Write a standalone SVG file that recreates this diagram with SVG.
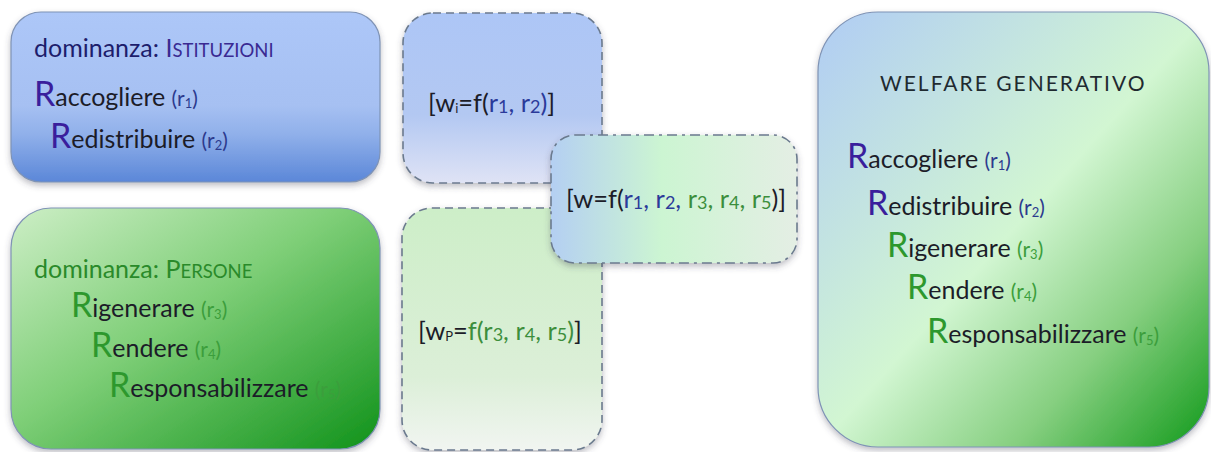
<svg xmlns="http://www.w3.org/2000/svg" width="1211" height="452" viewBox="0 0 1211 452">
<defs>
<filter id="sh" x="-10%" y="-10%" width="120%" height="125%">
<feDropShadow dx="0" dy="3" stdDeviation="3" flood-color="#445" flood-opacity="0.35"/>
</filter>
<linearGradient id="gBlue" x1="0" y1="0" x2="0" y2="1">
<stop offset="0" stop-color="#adc7f8"/>
<stop offset="0.55" stop-color="#a6c0f2"/>
<stop offset="0.72" stop-color="#90b0ea"/>
<stop offset="1" stop-color="#5b87d8"/>
</linearGradient>
<linearGradient id="gGreen" x1="0" y1="0" x2="1" y2="1">
<stop offset="0" stop-color="#cdeec6"/>
<stop offset="0.45" stop-color="#7fcf78"/>
<stop offset="1" stop-color="#10921a"/>
</linearGradient>
<linearGradient id="gWi" x1="0" y1="0" x2="0" y2="1">
<stop offset="0" stop-color="#adc6f6"/>
<stop offset="0.6" stop-color="#b3c8f2"/>
<stop offset="1" stop-color="#dfe3f5"/>
</linearGradient>
<linearGradient id="gWp" x1="0" y1="0" x2="0" y2="1">
<stop offset="0" stop-color="#cdeec8"/>
<stop offset="0.7" stop-color="#dcefd8"/>
<stop offset="1" stop-color="#f1f5f1"/>
</linearGradient>
<linearGradient id="gW" x1="0" y1="0" x2="1" y2="0">
<stop offset="0" stop-color="#b4cff2"/>
<stop offset="0.45" stop-color="#ccf5d2"/>
<stop offset="1" stop-color="#e4eee4"/>
</linearGradient>
<linearGradient id="gWG" x1="0" y1="0" x2="1" y2="1">
<stop offset="0" stop-color="#b0ccf4"/>
<stop offset="0.5" stop-color="#d2f6d2"/>
<stop offset="0.75" stop-color="#86cf80"/>
<stop offset="1" stop-color="#119a1a"/>
</linearGradient>
<style>
text{font-family:Lato,"Liberation Sans",sans-serif;font-size:25px;fill:#1c1c28}
.solid{stroke:#7f93b5;stroke-width:1.2}
.dash{stroke:#6b7a8e;stroke-width:1.6;stroke-dasharray:8 5}
.dashdot{stroke:#6b7a8e;stroke-width:1.6;stroke-dasharray:10 5 3 5}
.big{font-size:34px}
.blueR{fill:#3a1e9c}
.blueS{fill:#2c3a8e;font-size:21px}
.navy{fill:#1d1d6c}
.sc{font-size:18.5px}
.greenR{fill:#2d982d}
.greenS{fill:#3c9e3c;font-size:21px}
.green{fill:#2a8a2a}
.sub{font-size:13px}
.f{font-size:25.5px}
.fs{font-size:18px}
.fblue{fill:#2b3a9a}
.fgreen{fill:#3c8e3c}
.wg{font-size:21px;letter-spacing:2px;fill:#1f2a30}
</style>
</defs>

<g id="connectors"></g>

<g id="istituzioni">
<rect x="11" y="12" width="369" height="170" rx="30" fill="url(#gBlue)" class="solid" filter="url(#sh)"/>
<text x="34" y="57"><tspan class="navy">dominanza: </tspan><tspan fill="#3a2a92">I</tspan><tspan class="sc" fill="#3a2a92">STITUZIONI</tspan></text>
<text x="34" y="106"><tspan class="big blueR">R</tspan>accogliere <tspan class="blueS">(r<tspan class="sub" dy="2">1</tspan><tspan dy="-2">)</tspan></tspan></text>
<text x="50" y="148"><tspan class="big blueR">R</tspan>edistribuire <tspan class="blueS">(r<tspan class="sub" dy="2">2</tspan><tspan dy="-2">)</tspan></tspan></text>
</g>

<g id="persone">
<rect x="11" y="208" width="369" height="241" rx="40" fill="url(#gGreen)" class="solid" filter="url(#sh)"/>
<text x="34" y="278"><tspan class="green">dominanza: P</tspan><tspan class="sc green">ERSONE</tspan></text>
<text x="71" y="317"><tspan class="big greenR">R</tspan>igenerare <tspan class="greenS">(r<tspan class="sub" dy="2">3</tspan><tspan dy="-2">)</tspan></tspan></text>
<text x="91" y="357"><tspan class="big greenR">R</tspan>endere <tspan class="greenS">(r<tspan class="sub" dy="2">4</tspan><tspan dy="-2">)</tspan></tspan></text>
<text x="109" y="397"><tspan class="big greenR">R</tspan>esponsabilizzare <tspan class="greenS">(r<tspan class="sub" dy="2">5</tspan><tspan dy="-2">)</tspan></tspan></text>
</g>

<g id="wi">
<rect x="403" y="13" width="199" height="170" rx="30" fill="url(#gWi)" class="dash" filter="url(#sh)"/>
<text x="428" y="112" class="f">[w<tspan class="sub" dy="1">i</tspan><tspan dy="-1">=f(</tspan><tspan class="fblue">r<tspan class="fs" dy="1">1</tspan><tspan dy="-1">, r</tspan><tspan class="fs" dy="1">2</tspan><tspan dy="-1">)</tspan></tspan>]</text>
</g>

<g id="wp">
<rect x="402" y="208" width="200" height="242" rx="30" fill="url(#gWp)" class="dash" filter="url(#sh)"/>
<text x="418" y="340" class="f">[w<tspan class="sub" dy="1">P</tspan><tspan dy="-1">=</tspan><tspan class="fgreen">f(r<tspan class="fs" dy="1">3</tspan><tspan dy="-1">, r</tspan><tspan class="fs" dy="1">4</tspan><tspan dy="-1">, r</tspan><tspan class="fs" dy="1">5</tspan><tspan dy="-1">)</tspan></tspan>]</text>
</g>

<g id="w">
<rect x="551" y="135" width="246" height="128" rx="24" fill="url(#gW)" class="dashdot" filter="url(#sh)"/>
<text x="566" y="208" class="f">[w=f(<tspan class="fblue">r<tspan class="fs" dy="1">1</tspan><tspan dy="-1">, r</tspan><tspan class="fs" dy="1">2</tspan><tspan dy="-1">, </tspan></tspan><tspan class="fgreen">r<tspan class="fs" dy="1">3</tspan><tspan dy="-1">, r</tspan><tspan class="fs" dy="1">4</tspan><tspan dy="-1">, r</tspan><tspan class="fs" dy="1">5</tspan></tspan><tspan dy="-1">)]</tspan></text>
</g>

<g id="welfare">
<rect x="818" y="12" width="391" height="435" rx="60" fill="url(#gWG)" class="solid" filter="url(#sh)"/>
<text x="880" y="91" class="wg">WELFARE GENERATIVO</text>
<text x="847" y="168"><tspan class="big blueR">R</tspan>accogliere <tspan class="blueS">(r<tspan class="sub" dy="2">1</tspan><tspan dy="-2">)</tspan></tspan></text>
<text x="867" y="215"><tspan class="big blueR">R</tspan>edistribuire <tspan class="blueS">(r<tspan class="sub" dy="2">2</tspan><tspan dy="-2">)</tspan></tspan></text>
<text x="887" y="257"><tspan class="big greenR">R</tspan>igenerare <tspan class="greenS">(r<tspan class="sub" dy="2">3</tspan><tspan dy="-2">)</tspan></tspan></text>
<text x="907" y="299"><tspan class="big greenR">R</tspan>endere <tspan class="greenS">(r<tspan class="sub" dy="2">4</tspan><tspan dy="-2">)</tspan></tspan></text>
<text x="927" y="343"><tspan class="big greenR">R</tspan>esponsabilizzare <tspan class="greenS">(r<tspan class="sub" dy="2">5</tspan><tspan dy="-2">)</tspan></tspan></text>
</g>
</svg>
